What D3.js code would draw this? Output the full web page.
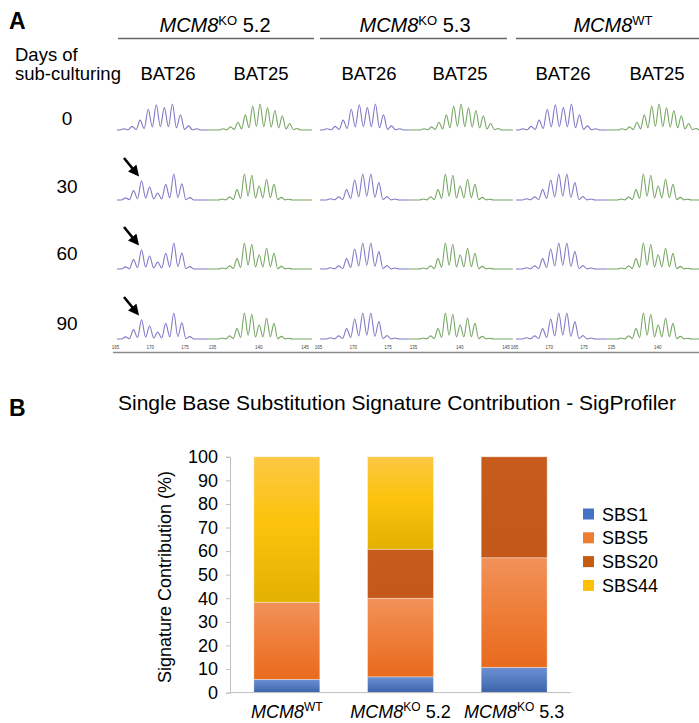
<!DOCTYPE html>
<html>
<head>
<meta charset="utf-8">
<script src="https://cdn.jsdelivr.net/npm/d3@7"></script>
<style>
  body { margin: 0; background: #fff; }
  svg { display: block; font-family: "Liberation Sans", Arial, sans-serif; }
</style>
</head>
<body>
<div id="chart"></div>
<script>
// ---- panel A data ----
var groupNames = ["KO", "KO", "WT"];
var groupSuffix = [" 5.2", " 5.3", ""];
var markers = ["BAT26", "BAT25"];
var days = ["0", "30", "60", "90"];
var bat26Ticks = [165, 170, 175];
var bat25Ticks = [135, 140, 145];
var bat25TicksLast = [135, 140];

// relative peak heights, one entry per repeat peak
var bat26Day0 = [0.05, 0.14, 0.38, 0.8, 0.97, 0.86, 1.0, 0.58, 0.16, 0.05];
var bat26Normal = [0.05, 0.12, 0.4, 0.77, 1.0, 1.0, 0.67, 0.13, 0.04];
var bat26Shifted = [0.08, 0.36, 0.74, 0.5, 0.27, 0.6, 1.0, 0.62, 0.09];
var bat25Day0 = [0.05, 0.12, 0.3, 0.58, 0.92, 1.0, 0.85, 0.75, 0.55, 0.25, 0.06];
var bat25Normal = [0.04, 0.12, 0.4, 1.0, 0.95, 0.55, 0.8, 0.6, 0.1, 0.03];

// first peak position (bp) for each pattern
var bat26Start = {day0: 166.3, normal: 166.8, shifted: 166.5};
var bat25Start = {day0: 136.2, normal: 136.1};
var bat26Step = 1.16, bat25Step = 0.8;

// which rows carry the instability arrow (MCM8KO 5.2, BAT26)
var arrowRows = [1, 2, 3];

// ---- panel B data ----
var samples = ["WT", "KO52", "KO53"];
var sampleSup = ["WT", "KO", "KO"];
var sampleTail = ["", " 5.2", " 5.3"];
var signatures = ["SBS1", "SBS5", "SBS20", "SBS44"];
var sbs1 = [5.6, 6.7, 10.7];
var sbs5 = [32.7, 33.3, 46.5];
var sbs20 = [0, 20.8, 42.8];
var sbs44 = [61.7, 39.2, 0];
var yTicks = [0, 10, 20, 30, 40, 50, 60, 70, 80, 90, 100];

var width = 699, height = 723;

var svg = d3.select("#chart").append("svg")
  .attr("width", width)
  .attr("height", height);

// =================== PANEL A ===================
svg.append("text").attr("x", 9).attr("y", 29)
  .style("font-size", "23px").style("font-weight", "bold").text("A");

var groupCenters = [215, 415, 613];
var groupLines = [[118, 314], [320, 507], [516, 699]];

groupNames.forEach(function(g, i) {
  var t = svg.append("text")
    .attr("x", groupCenters[i]).attr("y", 32)
    .attr("text-anchor", "middle")
    .style("font-size", "20px");
  t.append("tspan").style("font-style", "italic").text("MCM8");
  t.append("tspan").attr("dy", -7).style("font-size", "13px").text(g);
  t.append("tspan").attr("dy", 7).text(groupSuffix[i]);
  svg.append("line")
    .attr("x1", groupLines[i][0]).attr("x2", groupLines[i][1])
    .attr("y1", 38.5).attr("y2", 38.5)
    .attr("stroke", "#666").attr("stroke-width", 1.5);
});

svg.append("text").attr("x", 15).attr("y", 61).style("font-size", "18.5px").text("Days of");
svg.append("text").attr("x", 15).attr("y", 80).style("font-size", "18.5px").text("sub-culturing");

var bat26Origin = [115, 318, 514];
var bat25Origin = [212, 413, 611];
var labelCenters = [[168, 261], [369, 460], [563, 657]];

labelCenters.forEach(function(pair) {
  pair.forEach(function(cx, m) {
    svg.append("text").attr("x", cx).attr("y", 80)
      .attr("text-anchor", "middle").style("font-size", "18.5px").text(markers[m]);
  });
});

var rowBase = [130, 200, 269, 339];
var rowLabelY = [125, 193, 260, 330];
var peakH = 26;

days.forEach(function(d, r) {
  svg.append("text").attr("x", 67).attr("y", rowLabelY[r])
    .attr("text-anchor", "middle").style("font-size", "19px").text(d);
});

var traceLine = d3.line().curve(d3.curveMonotoneX);

function tracePoints(heights, start, step, lo, hi) {
  var pts = [[lo, 0]];
  heights.forEach(function(h, i) {
    var p = start + i * step;
    var v = i == 0 ? 0 : 0.15 * Math.min(h, heights[i - 1]);
    pts.push([p - step / 2, v]);
    pts.push([p, h]);
  });
  pts.push([start + heights.length * step - step / 2, 0]);
  pts.push([hi, 0]);
  return pts;
}

for (var gi = 0; gi < 3; gi++) {
  var x26 = d3.scaleLinear().domain([165, 175]).range([bat26Origin[gi], bat26Origin[gi] + 69.5]);
  var x25 = d3.scaleLinear().domain([135, 145]).range([bat25Origin[gi], bat25Origin[gi] + 92.5]);
  var hi26 = x26.invert(x25(134.6));

  for (var r = 0; r < 4; r++) {
    var y = d3.scaleLinear().domain([0, 1]).range([rowBase[r], rowBase[r] - peakH]);

    var p26, s26, p25, s25;
    if (r == 0) { p26 = bat26Day0; s26 = bat26Start.day0; p25 = bat25Day0; s25 = bat25Start.day0; }
    else if (gi == 0) { p26 = bat26Shifted; s26 = bat26Start.shifted; p25 = bat25Normal; s25 = bat25Start.normal; }
    else { p26 = bat26Normal; s26 = bat26Start.normal; p25 = bat25Normal; s25 = bat25Start.normal; }

    var lo26 = x26.invert(bat26Origin[gi] + 2);
    traceLine.x(function(p) { return x26(p[0]); }).y(function(p) { return y(p[1]); });
    svg.append("path")
      .attr("d", traceLine(tracePoints(p26, s26, bat26Step, lo26, hi26)))
      .attr("fill", "none").attr("stroke", "#7f79c6").attr("stroke-width", 1.1);

    traceLine.x(function(p) { return x25(p[0]); });
    svg.append("path")
      .attr("d", traceLine(tracePoints(p25, s25, bat25Step, 134.6, 145.8)))
      .attr("fill", "none").attr("stroke", "#76a663").attr("stroke-width", 1.1);
  }

  // tiny bp axes under the last row
  var ax26 = svg.append("g").attr("transform", "translate(0,352)")
    .call(d3.axisBottom(x26).tickValues(bat26Ticks).tickSize(0).tickPadding(-6));
  var ax25 = svg.append("g").attr("transform", "translate(0,352)")
    .call(d3.axisBottom(x25).tickValues(gi == 2 ? bat25TicksLast : bat25Ticks).tickSize(0).tickPadding(-6));
  [ax26, ax25].forEach(function(a) {
    a.select(".domain").remove();
    a.selectAll("text").style("font-size", "4.5px").attr("fill", "#444")
      .style("font-family", "Liberation Sans, Arial, sans-serif");
  });
}

svg.append("line").attr("x1", 113).attr("x2", 699).attr("y1", 352.5).attr("y2", 352.5)
  .attr("stroke", "#8c8c8c").attr("stroke-width", 1.6);

// arrows
var defs = svg.append("defs");
defs.append("marker").attr("id", "arrowHead")
  .attr("viewBox", "0 0 10 10").attr("refX", 7).attr("refY", 5)
  .attr("markerWidth", 4.2).attr("markerHeight", 4.2).attr("markerUnits", "strokeWidth")
  .attr("orient", "auto")
  .append("path").attr("d", "M0,0 L10,5 L0,10 Z").attr("fill", "#000");

arrowRows.forEach(function(r) {
  svg.append("line")
    .attr("x1", 124).attr("y1", rowBase[r] - 42)
    .attr("x2", 137).attr("y2", rowBase[r] - 26)
    .attr("stroke", "#000").attr("stroke-width", 2.6)
    .attr("marker-end", "url(#arrowHead)");
});

// =================== PANEL B ===================
svg.append("text").attr("x", 9).attr("y", 416)
  .style("font-size", "23px").style("font-weight", "bold").text("B");

svg.append("text").attr("x", 397).attr("y", 410).attr("text-anchor", "middle")
  .style("font-size", "21px").text("Single Base Substitution Signature Contribution - SigProfiler");

var gradStops = {
  SBS1: [["0%", "#6d90d2"], ["100%", "#3c64ab"]],
  SBS5: [["0%", "#f19259"], ["55%", "#ee7b35"], ["100%", "#e86b1d"]],
  SBS20: [["0%", "#c65b1b"], ["100%", "#c45818"]],
  SBS44: [["0%", "#fcc843"], ["45%", "#fbc30c"], ["100%", "#e3b102"]]
};
var legendColors = ["#4472c4", "#ed7d31", "#c55a11", "#ffc000"];

signatures.forEach(function(s) {
  var lg = defs.append("linearGradient").attr("id", "g" + s)
    .attr("x1", 0).attr("y1", 0).attr("x2", 0).attr("y2", 1);
  gradStops[s].forEach(function(st) {
    lg.append("stop").attr("offset", st[0]).attr("stop-color", st[1]);
  });
});

var xB = d3.scaleBand().domain(samples).range([230, 571])
  .paddingInner(0.42).paddingOuter(0.21);
var yB = d3.scaleLinear().domain([0, 100]).range([692.6, 456.8]);

var table = samples.map(function(s, i) {
  return {sample: s, SBS1: sbs1[i], SBS5: sbs5[i], SBS20: sbs20[i], SBS44: sbs44[i]};
});
var stacked = d3.stack().keys(signatures)(table);

stacked.forEach(function(layer) {
  svg.append("g").selectAll("rect")
    .data(layer.filter(function(d) { return d[1] - d[0] > 0; }))
    .enter().append("rect")
    .attr("x", function(d) { return xB(d.data.sample); })
    .attr("width", xB.bandwidth())
    .attr("y", function(d) { return yB(d[1]); })
    .attr("height", function(d) { return yB(d[0]) - yB(d[1]); })
    .attr("fill", "url(#g" + layer.key + ")")
    .attr("stroke", "#ffffff").attr("stroke-opacity", 0.35).attr("stroke-width", 1);
});

var yAxis = svg.append("g").attr("transform", "translate(230,0)")
  .call(d3.axisLeft(yB).tickValues(yTicks).tickSize(4).tickPadding(8));
yAxis.select(".domain").attr("stroke", "#bfbfbf");
yAxis.selectAll(".tick line").attr("stroke", "#bfbfbf");
yAxis.selectAll("text").style("font-size", "18px").attr("fill", "#000")
  .style("font-family", "Liberation Sans, Arial, sans-serif");

svg.append("line").attr("x1", 230).attr("x2", 571).attr("y1", 692.6).attr("y2", 692.6)
  .attr("stroke", "#bfbfbf").attr("stroke-width", 1);

svg.append("text")
  .attr("transform", "translate(171,577) rotate(-90)")
  .attr("text-anchor", "middle").style("font-size", "18px")
  .text("Signature Contribution (%)");

samples.forEach(function(s, i) {
  var t = svg.append("text")
    .attr("x", xB(s) + xB.bandwidth() / 2).attr("y", 718)
    .attr("text-anchor", "middle").style("font-size", "18px");
  t.append("tspan").style("font-style", "italic").text("MCM8");
  t.append("tspan").attr("dy", -7).style("font-size", "12px").text(sampleSup[i]);
  t.append("tspan").attr("dy", 7).text(sampleTail[i]);
});

var legend = svg.append("g");
signatures.forEach(function(s, i) {
  var cy = 514 + i * 23.8;
  legend.append("rect").attr("x", 583).attr("y", cy - 5.5)
    .attr("width", 11).attr("height", 11).attr("fill", legendColors[i]);
  legend.append("text").attr("x", 602).attr("y", cy + 6.5)
    .style("font-size", "18px").text(s);
});
</script>
</body>
</html>
